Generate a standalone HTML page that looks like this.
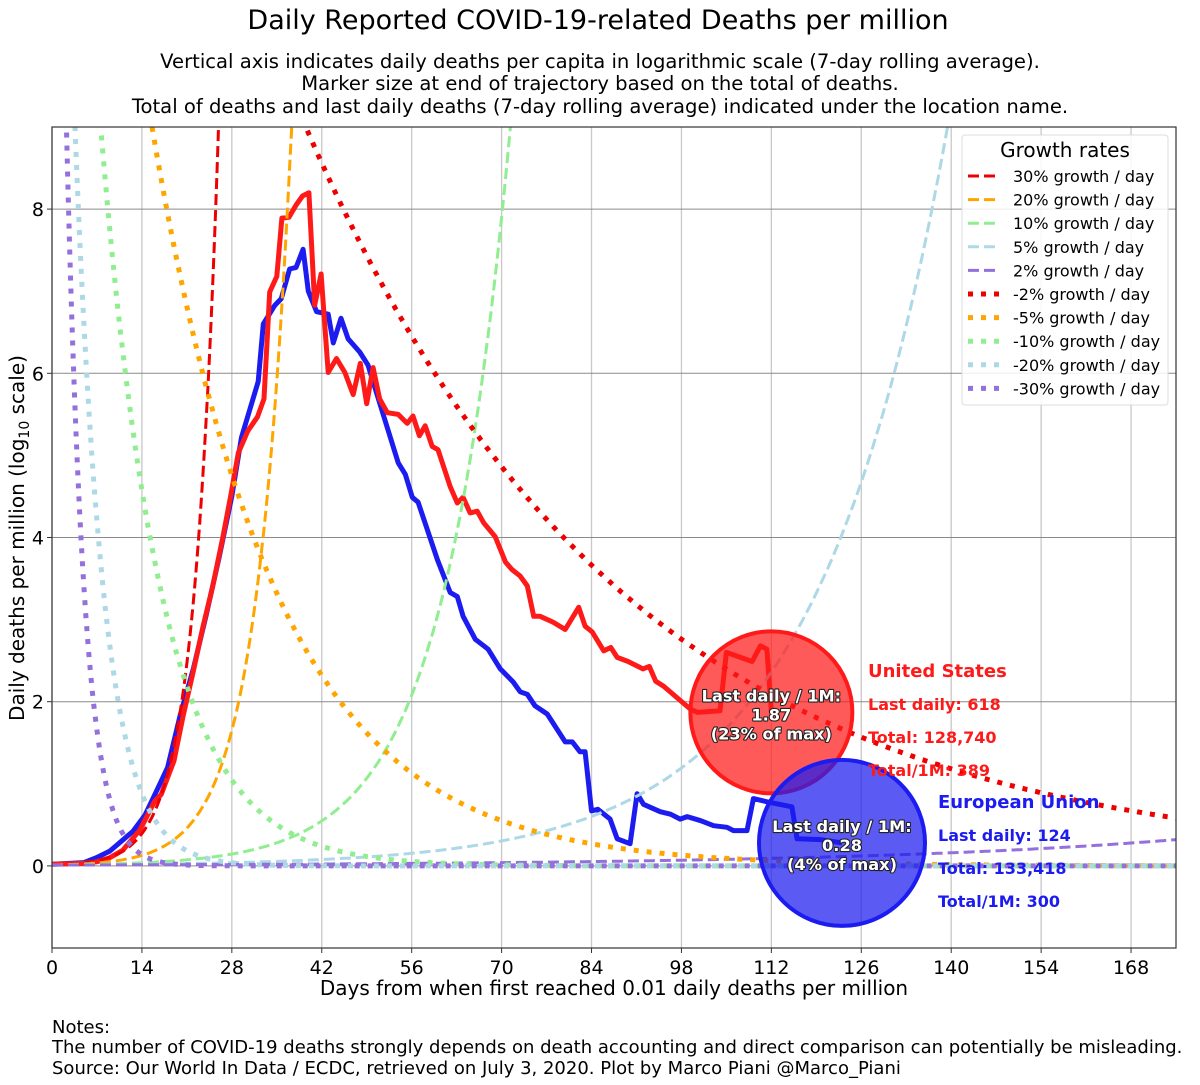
<!DOCTYPE html>
<html><head><meta charset="utf-8"><style>
body{margin:0;background:#fff}
svg{display:block;font-family:"DejaVu Sans","Liberation Sans",sans-serif}
</style></head><body>
<svg id="chart" width="1200" height="1085" viewBox="0 0 1200 1085" xmlns="http://www.w3.org/2000/svg">
<defs><clipPath id="plotclip"><rect x="52" y="127" width="1124" height="821"/></clipPath></defs>
<text x="598" y="29" font-size="27" text-anchor="middle">Daily Reported COVID-19-related Deaths per million</text>
<g font-size="19.6" text-anchor="middle">
<text x="600" y="68">Vertical axis indicates daily deaths per capita in logarithmic scale (7-day rolling average).</text>
<text x="600" y="90">Marker size at end of trajectory based on the total of deaths.</text>
<text x="600" y="113">Total of deaths and last daily deaths (7-day rolling average) indicated under the location name.</text>
</g>
<g id="grid"></g>
<g id="series" clip-path="url(#plotclip)"></g>
<g id="guides" clip-path="url(#plotclip)"></g>
<g id="markers"></g>
<rect x="52" y="127" width="1124" height="821" fill="none" stroke="#333" stroke-width="1.2"/>
<g id="ticks"></g>
<text x="614" y="995" font-size="20" text-anchor="middle">Days from when first reached 0.01 daily deaths per million</text>
<text transform="translate(24,538) rotate(-90)" font-size="20" text-anchor="middle">Daily deaths per million (log<tspan font-size="14" dy="5">10</tspan><tspan dy="-5"> scale)</tspan></text>
<g font-size="18">
<text x="52" y="1033">Notes:</text>
<text x="52" y="1053">The number of COVID-19 deaths strongly depends on death accounting and direct comparison can potentially be misleading.</text>
<text x="52" y="1074">Source: Our World In Data / ECDC, retrieved on July 3, 2020. Plot by Marco Piani @Marco_Piani</text>
</g>
<g id="legend"></g>
<g id="labels"></g>
</svg>
<script>
const usDays=[0,5,7,9,11,13.7,16,17,19,20.4,22,23.5,25,26.6,27.9,29,30.5,32,33,33.9,35,35.8,36.9,38,39,40,40.9,41.9,43,44.3,45.6,46.9,48,49,50,51,52.2,53.9,55.3,56.2,57.2,58.1,59.2,60.1,62,63.1,64,65.1,66.2,67.2,69,70.6,71.6,72.9,74,75,76,78,79.9,82,83,84.1,85.9,87,88,89.7,92,93,94,95.2,99.4,100.5,104,105,109,110.3,111.3,112];
const usVals=[0.02,0.03,0.05,0.1,0.19,0.44,0.79,0.87,1.28,1.82,2.37,2.91,3.4,4.0,4.54,5.03,5.3,5.47,5.69,6.99,7.18,7.89,7.9,8.05,8.16,8.2,6.83,7.21,6.01,6.18,6.01,5.74,6.12,5.63,6.07,5.69,5.52,5.5,5.39,5.48,5.24,5.36,5.11,5.07,4.62,4.42,4.49,4.3,4.32,4.18,4.01,3.7,3.61,3.53,3.41,3.04,3.04,2.97,2.88,3.15,2.92,2.85,2.62,2.66,2.54,2.49,2.4,2.43,2.25,2.19,1.91,1.87,1.89,2.6,2.49,2.68,2.64,1.87];
const euDays=[0,5,6.9,9,12.6,14.5,16.5,18,20,22,24,26,28,29.5,32.1,32.9,34.7,35.7,37,38,39.1,39.9,41.2,43,43.8,45,46.1,47.9,49.2,51.8,53.9,55,56.1,57,60,62,63.1,64,65.9,67.9,69.8,71.8,72.9,74,75.2,77.1,79.9,81,82.2,83,84,85,86.9,88,90,91.1,92.1,94.7,96.3,97.8,98.9,101,103,105.1,106.1,108.2,109.2,111.4,115.2,116,119.6,123];
const euVals=[0.02,0.04,0.1,0.18,0.42,0.62,0.95,1.2,1.85,2.4,3.05,3.75,4.5,5.22,5.9,6.6,6.83,6.91,7.27,7.29,7.51,7.0,6.75,6.72,6.37,6.67,6.42,6.26,6.1,5.44,4.91,4.77,4.49,4.43,3.73,3.33,3.28,3.04,2.76,2.64,2.4,2.24,2.12,2.09,1.95,1.85,1.51,1.51,1.39,1.39,0.67,0.69,0.57,0.33,0.27,0.88,0.75,0.66,0.63,0.57,0.6,0.55,0.49,0.47,0.43,0.43,0.82,0.78,0.72,0.33,0.32,0.28];
const growthRates=[30,20,10,5,2,-2,-5,-10,-20,-30];
const growthColors=["#ee0000","#ffa500","#90ee90","#add8e6","#9370db","#ee0000","#ffa500","#90ee90","#add8e6","#9370db"];
const xTicks=[0,14,28,42,56,70,84,98,112,126,140,154,168];
const yTicks=[0,2,4,6,8];
const usInfo=["United States","Last daily: 618","Total: 128,740","Total/1M: 389"];
const euInfo=["European Union","Last daily: 124","Total: 133,418","Total/1M: 300"];
const usBubble=["Last daily / 1M:","1.87","(23% of max)"];
const euBubble=["Last daily / 1M:","0.28","(4% of max)"];

const NS="http://www.w3.org/2000/svg";
const X0=52,X1=1176,Y0=948,Y1=127,DMAX=175,VMIN=-1,VMAX=9;
const sx=d=>X0+(d/DMAX)*(X1-X0);
const sy=v=>Y0-((v-VMIN)/(VMAX-VMIN))*(Y0-Y1);
function mk(tag,attrs,parent){const e=document.createElementNS(NS,tag);for(const k in attrs)e.setAttribute(k,attrs[k]);parent.appendChild(e);return e;}
const grid=document.getElementById('grid');
xTicks.forEach(t=>{const l=mk('line',{x1:sx(t),x2:sx(t),y1:Y1,y2:Y0,stroke:'#c8c8c8','stroke-width':1.3},grid);

});
yTicks.forEach(t=>{const l=mk('line',{x1:X0,x2:X1,y1:sy(t),y2:sy(t),stroke:'#8a8a8a','stroke-width':1},grid);

});
const ticks=document.getElementById('ticks');
xTicks.forEach(t=>{mk('line',{x1:sx(t),x2:sx(t),y1:Y0,y2:Y0+5,stroke:'#333'},ticks);
const tx=mk('text',{x:sx(t),y:Y0+26,'font-size':19,'text-anchor':'middle'},ticks);tx.textContent=t;

});
yTicks.forEach(t=>{mk('line',{x1:X0-5,x2:X0,y1:sy(t),y2:sy(t),stroke:'#333'},ticks);
const tx=mk('text',{x:X0-8,y:sy(t)+7,'font-size':19,'text-anchor':'end'},ticks);tx.textContent=t;

});

function pathOf(ds,vs){return ds.map((d,i)=>(i?'L':'M')+sx(d).toFixed(1)+','+sy(vs[i]).toFixed(1)).join('');}
const series=document.getElementById('series');
const eu=mk('path',{d:pathOf(euDays,euVals),fill:'none',stroke:'#1c1cf0','stroke-width':5,'stroke-linejoin':'round'},series);


const us=mk('path',{d:pathOf(usDays,usVals),fill:'none',stroke:'#ff1a1a','stroke-width':5,'stroke-linejoin':'round'},series);



const guides=document.getElementById('guides');
growthRates.forEach((r,i)=>{
  const pts=[];const A=r>0?0.01:20;
  for(let d=0;d<=DMAX;d+=0.25){let v=A*Math.pow(1+r/100,d);if(v>12)v=12;pts.push((pts.length?'L':'M')+sx(d).toFixed(1)+','+sy(v).toFixed(1));}
  const dash=r>0?'11,5':'5,8';
  const p=mk('path',{d:pts.join(''),fill:'none',stroke:growthColors[i],'stroke-width':r>0?3:5,'stroke-dasharray':dash},guides);
  
  
});

const markers=document.getElementById('markers');
function bubble(d,v,r,fill,stroke,lines,name){
  const g=mk('g',{},markers);
  
  
  mk('circle',{cx:sx(d),cy:sy(v),r:r,fill:fill,'fill-opacity':0.72,stroke:stroke,'stroke-width':4},g);
  lines.forEach((t,k)=>{const tx=mk('text',{x:sx(d),y:sy(v)-11+k*19,'font-size':16.2,'font-weight':'bold','text-anchor':'middle',fill:'#fff',stroke:'#222','stroke-width':2.2,'paint-order':'stroke','stroke-linejoin':'round'},g);tx.textContent=t;});
}
bubble(usDays[usDays.length-1],usVals[usVals.length-1],81,'#ff1a1a','#ff1a1a',usBubble,'us-end-marker');
bubble(euDays[euDays.length-1],euVals[euVals.length-1],83,'#1c1cf0','#1c1cf0',euBubble,'eu-end-marker');

const labels=document.getElementById('labels');
function info(x,y,lines,col,name){const g=mk('g',{fill:col,'font-weight':'bold'},labels);


lines.forEach((t,k)=>{const tx=mk('text',{x:x,y:y+k*33,'font-size':k?16:18},g);tx.textContent=t;});}
info(868,677,usInfo,'#ff1a1a','us-info-label');
info(938,808,euInfo,'#1c1cf0','eu-info-label');

const leg=document.getElementById('legend');
mk('rect',{x:962,y:135,width:206,height:270,rx:3,fill:'#fff','fill-opacity':0.85,stroke:'#ddd'},leg);
const lt=mk('text',{x:1065,y:157,'font-size':20,'text-anchor':'middle'},leg);lt.textContent='Growth rates';
growthRates.forEach((r,i)=>{const y=176+i*23.6;
  const e=mk('g',{},leg);
  
  
  mk('line',{x1:968,x2:1000,y1:y,y2:y,stroke:growthColors[i],'stroke-width':r>0?3:5,'stroke-dasharray':r>0?'11,5':'5,8'},e);
  const t=mk('text',{x:1013,y:y+6,'font-size':16},e);t.textContent=r+'% growth / day';});
</script>
</body></html>
